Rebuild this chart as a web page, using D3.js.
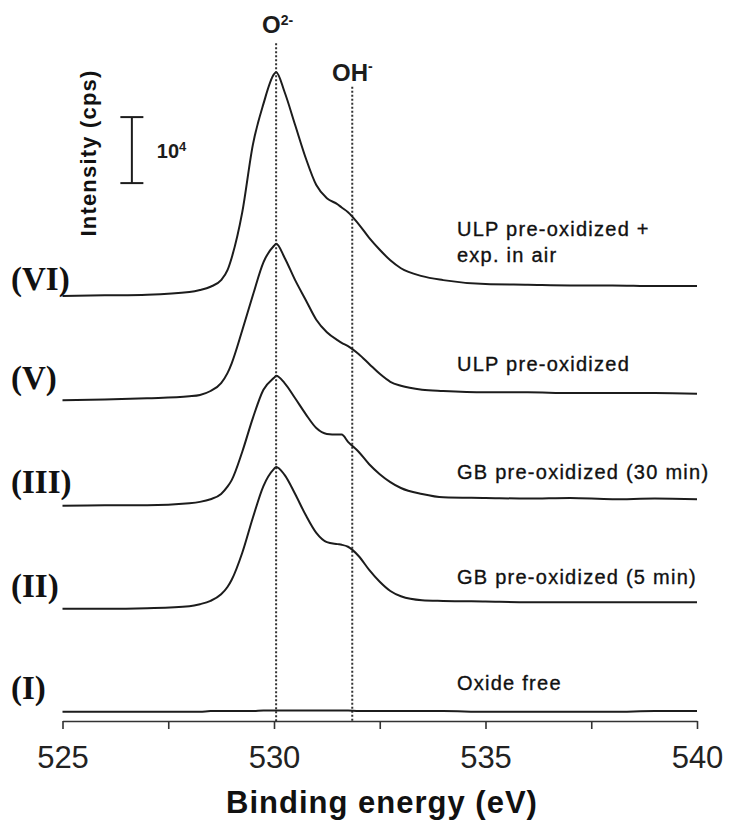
<!DOCTYPE html>
<html>
<head>
<meta charset="utf-8">
<script src="https://cdn.jsdelivr.net/npm/d3@7"></script>
<style>
  html, body { margin: 0; padding: 0; background: #fff; }
  svg { display: block; }
</style>
</head>
<body>
<svg id="chart" width="730" height="823"></svg>
<script>
// ---------------- DATA ----------------
// Binding energy grid (eV)
const energies = [525,526,527,528,528.25,528.5,528.75,528.9,529,529.25,529.5,529.75,530,530.05,530.25,530.5,530.75,531,531.25,531.5,531.6,531.75,532,532.25,532.5,532.75,533,533.5,534,535,536,537,538,539,540];

// Stacked (offset) intensities, in units of 10^3 cps
const intensityVI  = [64.4,64.5,64.6,65.0,65.3,65.8,66.8,68.3,70.2,77.1,87.3,93.5,98.0,98.3,95.3,90.3,85.3,81.2,79.2,78.3,77.8,77.1,75.3,73.2,71.4,69.8,68.6,67.4,66.8,66.2,66.1,66.0,66.0,65.9,65.9];
const intensityV   = [48.6,48.7,48.9,49.2,49.4,50.0,51.2,52.7,54.2,59.2,64.5,69.5,72.0,72.3,70.2,66.8,63.8,60.8,58.9,57.7,57.3,56.8,55.6,54.1,52.6,51.4,50.8,50.2,50.0,49.8,49.8,49.7,49.7,49.7,49.6];
const intensityIII = [32.6,32.7,32.7,33.0,33.2,33.6,34.4,35.5,36.5,40.8,45.9,50.2,52.0,52.3,51.2,48.9,46.5,44.4,43.5,43.4,43.4,42.3,40.8,38.9,37.4,36.2,35.3,34.4,33.9,33.8,33.7,33.8,33.6,33.7,33.6];
const intensityII  = [17.0,17.0,17.1,17.4,17.7,18.2,19.2,20.3,21.4,25.5,30.8,35.6,38.2,38.5,37.3,34.4,31.2,28.5,27.1,26.8,26.7,26.4,25.0,22.9,21.1,19.7,18.9,18.3,18.2,18.1,18.0,18.0,18.0,18.0,18.0];
const intensityI   = [1.4,1.4,1.4,1.4,1.4,1.5,1.5,1.5,1.5,1.5,1.5,1.6,1.6,1.6,1.6,1.6,1.6,1.6,1.6,1.6,1.6,1.6,1.5,1.5,1.5,1.5,1.5,1.5,1.5,1.4,1.4,1.4,1.4,1.5,1.5];

const seriesIds    = ["(VI)","(V)","(III)","(II)","(I)"];
const seriesValues = [intensityVI, intensityV, intensityIII, intensityII, intensityI];
const sampleNames  = [["ULP pre-oxidized +","exp. in air"],["ULP pre-oxidized"],["GB pre-oxidized (30 min)"],["GB pre-oxidized (5 min)"],["Oxide free"]];

const xTickValues = [525,527.5,530,532.5,535,537.5,540];
const xLabelTicks = [525,530,535,540];
const xTitle = "Binding energy (eV)";
const yTitle = "Intensity (cps)";

// Reference peak positions (eV) and the top of their guide lines (10^3 cps)
const peakNames  = ["O","OH"];
const peakSups   = ["2-","-"];
const peakEnergy = [530.05, 531.85];
const peakTop    = [102.7, 96.1];

// Scale bar: 10^4 cps
const scaleBarEnergy = 526.64;
const scaleBarBottom = 81.5;
const scaleBarSpan   = 10;

// ---------------- LAYOUT ----------------
const svg = d3.select("#chart");
svg.append("rect").attr("width",730).attr("height",823).attr("fill","#fff");

const x = d3.scaleLinear().domain([525,540]).range([62.5,697]);
const y = d3.scaleLinear().domain([0,100]).range([721,61]);

const ink = "#1c1c1c";
const sans = "Liberation Sans, Arial, Helvetica, sans-serif";

// dotted guide lines
peakEnergy.forEach((e,i) => {
  svg.append("line")
    .attr("x1", x(e)).attr("x2", x(e))
    .attr("y1", y(peakTop[i])).attr("y2", y(0))
    .attr("stroke", "#333").attr("stroke-width", 2)
    .attr("stroke-dasharray", "2,2");
});

// peak labels
const peakLabelPos = [{lx:262, by:33, dy:-8}, {lx:332, by:81, dy:-10}];
peakNames.forEach((n,i) => {
  const t = svg.append("text")
    .attr("x", peakLabelPos[i].lx).attr("y", peakLabelPos[i].by)
    .attr("font-family", sans).attr("font-weight","bold")
    .attr("font-size", 24).attr("fill", ink);
  t.append("tspan").text(n);
  t.append("tspan").attr("font-size", 14).attr("dy", peakLabelPos[i].dy).text(peakSups[i]);
});

// axis
const axis = d3.axisBottom(x)
  .tickValues(xTickValues)
  .tickFormat(d => xLabelTicks.includes(d) ? d3.format("d")(d) : "")
  .tickSize(8).tickSizeOuter(0).tickPadding(17);
const gAxis = svg.append("g").attr("transform", `translate(0,${y(0)})`).call(axis);
gAxis.select(".domain").attr("stroke","#333").attr("stroke-width",1.6);
gAxis.selectAll(".tick line").attr("stroke","#333").attr("stroke-width",1.6);
gAxis.selectAll(".tick text")
  .attr("font-family", sans)
  .attr("font-size", 31).attr("fill", "#222");

// x title
svg.append("text")
  .attr("x", 382).attr("y", 813)
  .attr("text-anchor","middle")
  .attr("font-family", sans)
  .attr("font-weight","bold").attr("font-size", 31)
  .attr("letter-spacing", 1)
  .attr("fill", "#111").text(xTitle);

// y title (rotated)
svg.append("text")
  .attr("transform","translate(88,153) rotate(-90)")
  .attr("text-anchor","middle").attr("dominant-baseline","central")
  .attr("font-family", sans)
  .attr("font-weight","bold").attr("font-size", 22)
  .attr("letter-spacing", 1.2)
  .attr("fill", "#111").text(yTitle);

// scale bar
const sbx = x(scaleBarEnergy);
const sbTop = y(scaleBarBottom + scaleBarSpan), sbBot = y(scaleBarBottom);
const gsb = svg.append("g").attr("stroke", ink).attr("stroke-width", 2);
gsb.append("line").attr("x1",sbx).attr("x2",sbx).attr("y1",sbTop).attr("y2",sbBot);
gsb.append("line").attr("x1",sbx-11.5).attr("x2",sbx+11.5).attr("y1",sbTop).attr("y2",sbTop);
gsb.append("line").attr("x1",sbx-11.5).attr("x2",sbx+11.5).attr("y1",sbBot).attr("y2",sbBot);
const sbt = svg.append("text")
  .attr("x", sbx + 25).attr("y", 158)
  .attr("font-family", sans)
  .attr("font-weight","bold").attr("font-size", 20).attr("fill", ink);
sbt.append("tspan").text("10");
sbt.append("tspan").attr("font-size", 13).attr("dy", -7).text("4");

// spectra
const line = d3.line()
  .x((d,i) => x(energies[i]))
  .y(d => y(d))
  .curve(d3.curveMonotoneX);

seriesValues.forEach(vals => {
  svg.append("path")
    .datum(vals)
    .attr("d", line)
    .attr("fill","none")
    .attr("stroke", ink)
    .attr("stroke-width", 2)
    .attr("stroke-linejoin","round");
});

// series ids (left, bold serif)
const idCenters = [281, 380, 484, 588, 690];
seriesIds.forEach((s,i) => {
  svg.append("text")
    .attr("x", 11).attr("y", idCenters[i] + 8.5)
    .attr("font-family","Liberation Serif, 'Times New Roman', serif")
    .attr("font-weight","bold").attr("font-size", 33)
    .attr("fill", "#111").text(s);
});

// sample names (right)
const nameCenters = [[229,255],[364],[472],[577],[683]];
sampleNames.forEach((lines,i) => {
  lines.forEach((ln,j) => {
    svg.append("text")
      .attr("x", 457).attr("y", nameCenters[i][j])
      .attr("dominant-baseline","central")
      .attr("font-family", sans)
      .attr("font-size", 20).attr("letter-spacing", 1.25)
      .attr("fill", "#111").attr("stroke", "#111").attr("stroke-width", 0.35)
      .text(ln);
  });
});
</script>
</body>
</html>
